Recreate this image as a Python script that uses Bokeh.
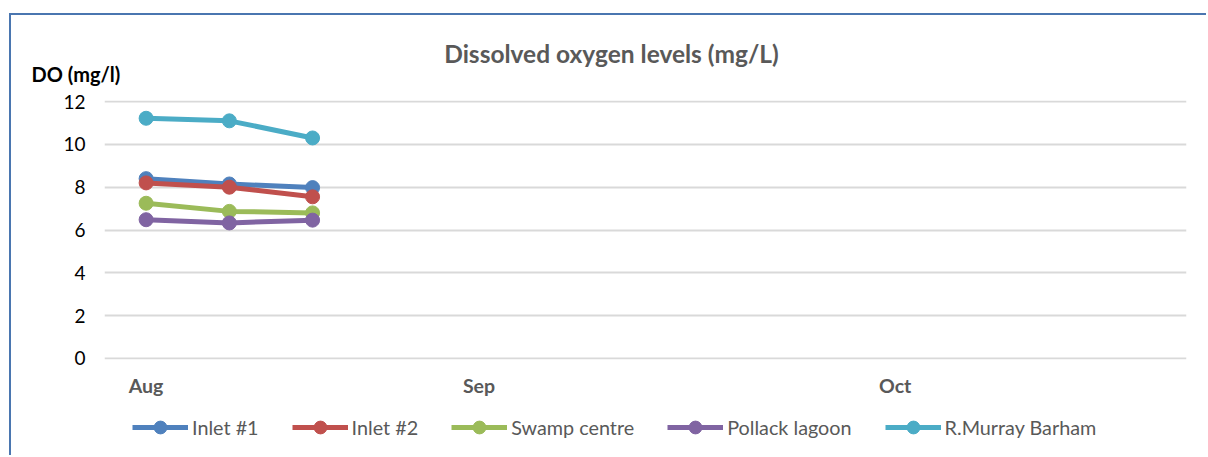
from bokeh.plotting import figure
from bokeh.layouts import column
from bokeh.models import (ColumnDataSource, FixedTicker, Legend, LegendItem, Label, Range1d)
from bokeh.embed import file_html
from bokeh.resources import INLINE

# ---- data ----
categories = ["Aug", "", "", "", "Sep", "", "", "", "", "Oct", "", "", ""]
sample_idx = [0, 1, 2]
series_names = ["Inlet #1", "Inlet #2", "Swamp centre", "Pollack lagoon", "R.Murray Barham"]
inlet1 = [8.4, 8.15, 7.98]
inlet2 = [8.2, 8.0, 7.55]
swamp = [7.25, 6.87, 6.8]
pollack = [6.48, 6.33, 6.46]
murray = [11.22, 11.1, 10.3]
y_ticks = [0, 2, 4, 6, 8, 10, 12]
colors = ["#4F81BD", "#C0504D", "#9BBB59", "#8064A2", "#4BACC6"]
title_text = "Dissolved oxygen levels (mg/L)"
y_label_text = "DO (mg/l)"

FONT = "Lato"
W = 1195
H0, H1, H2 = 73, 317, 50
FRAME_LEFT = 93


def blank(height):
    f = figure(width=W, height=height, output_backend="svg", toolbar_location=None,
               x_axis_type=None, y_axis_type=None, x_range=Range1d(0, 1),
               y_range=Range1d(-200, -199),
               min_border=0, min_border_left=0, min_border_right=0,
               min_border_top=0, min_border_bottom=0)
    f.outline_line_color = None
    f.grid.visible = False
    return f


p0 = blank(H0)
p = figure(width=W, height=H1, output_backend="svg", toolbar_location=None,
           x_range=Range1d(-0.5, len(categories) - 0.5), y_range=Range1d(-0.05, 12.05),
           min_border_left=FRAME_LEFT, min_border_right=20, min_border_top=12,
           min_border_bottom=46)
p2 = blank(H2)

unaligned = True
for f in (p0, p, p2):
    try:
        f.frame_align = False
    except Exception:
        unaligned = False
dx = 0 if unaligned else -FRAME_LEFT

# ---- header: title + y-axis caption ----
p0.add_layout(Label(x=600 + dx, y=35, x_units="screen", y_units="screen", text=title_text,
                    text_font=FONT, text_font_style="bold", text_font_size="24.5px",
                    text_color="#595959", text_align="center", text_baseline="middle"))
p0.add_layout(Label(x=20 + dx, y=15, x_units="screen", y_units="screen", text=y_label_text,
                    text_font=FONT, text_font_style="bold", text_font_size="20px",
                    text_color="#000000", text_align="left", text_baseline="middle"))

# ---- main chart ----
p.outline_line_color = None
p.xaxis.ticker = FixedTicker(ticks=[i for i, c in enumerate(categories) if c])
p.xaxis.major_label_overrides = {i: c for i, c in enumerate(categories) if c}
p.xaxis.axis_line_color = None
p.xaxis.major_tick_line_color = None
p.xaxis.major_tick_out = 0
p.xaxis.major_tick_in = 0
p.xaxis.minor_tick_line_color = None
p.xaxis.major_label_text_font = FONT
p.xaxis.major_label_text_font_style = "bold"
p.xaxis.major_label_text_font_size = "19.5px"
p.xaxis.major_label_text_color = "#595959"
p.xaxis.major_label_standoff = 14
p.xgrid.grid_line_color = None

p.yaxis.ticker = FixedTicker(ticks=y_ticks)
p.yaxis.axis_line_color = None
p.yaxis.major_tick_line_color = None
p.yaxis.major_tick_out = 0
p.yaxis.major_tick_in = 0
p.yaxis.minor_tick_line_color = None
p.yaxis.major_label_text_font = FONT
p.yaxis.major_label_text_font_size = "19px"
p.yaxis.major_label_text_color = "#000000"
p.yaxis.major_label_standoff = 19
p.ygrid.grid_line_color = "#D9D9D9"
p.ygrid.grid_line_width = 2

series = [inlet1, inlet2, swamp, pollack, murray]
sources = []
for vals, col in zip(series, colors):
    src = ColumnDataSource(dict(x=sample_idx, y=vals))
    sources.append(src)
    p.line("x", "y", source=src, line_color=col, line_width=5)
    p.scatter("x", "y", source=src, size=14, fill_color=col, line_color=col)

# ---- legend strip (same series, drawn out of this strip's view; legend only) ----
items = []
for name, col, src in zip(series_names, colors, sources):
    lr = p2.line("x", "y", source=src, line_color=col, line_width=5)
    sr = p2.scatter("x", "y", source=src, size=13, fill_color=col, line_color=col)
    items.append(LegendItem(label=name, renderers=[lr, sr]))
legend = Legend(items=items, orientation="horizontal", location=(121 + dx, 12),
                glyph_width=56, glyph_height=32, label_standoff=4, spacing=33,
                padding=0, margin=0, border_line_color=None, background_fill_alpha=0,
                label_text_font=FONT, label_text_font_size="19.8px", label_text_color="#595959",
                label_height=20)
p2.add_layout(legend, "center")

layout = column(p0, p, p2, spacing=0,
                styles={"margin-left": "9px", "margin-top": "13px",
                        "border-left": "2px solid #4A76B0", "border-top": "2px solid #4A76B0"})

open("out.html", "w").write(file_html(layout, INLINE))
